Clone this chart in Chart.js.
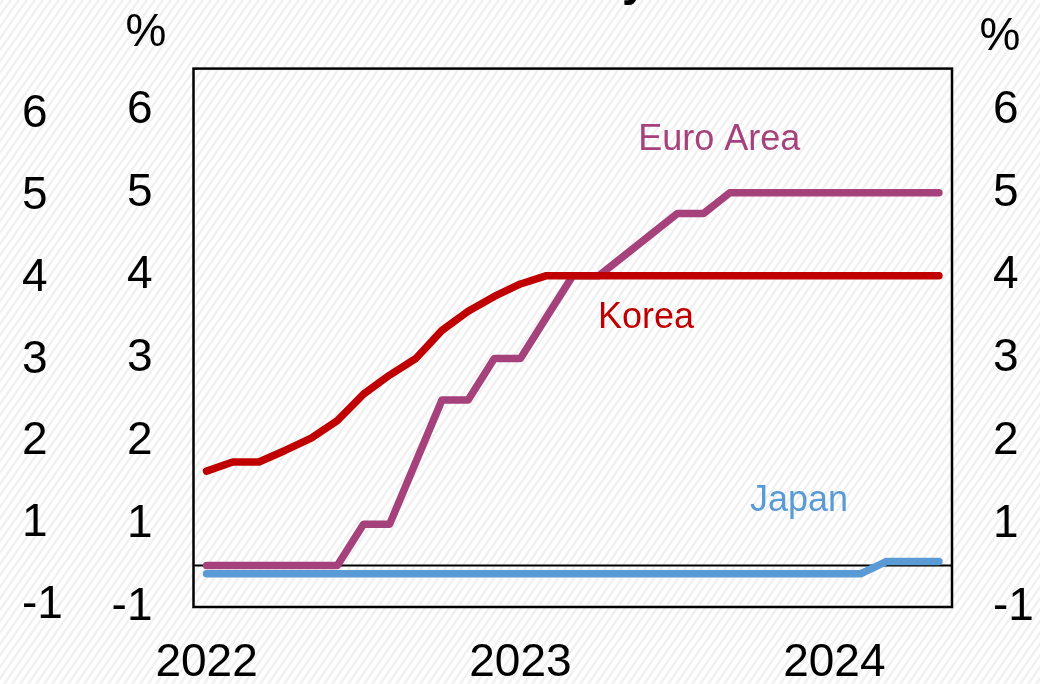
<!DOCTYPE html>
<html>
<head>
<meta charset="utf-8">
<script src="https://cdn.jsdelivr.net/npm/chart.js@4.4.1/dist/chart.umd.min.js"></script>
<style>
  html, body { margin: 0; padding: 0; background: #ffffff; }
  #wrap { width: 1040px; height: 684px; }
</style>
</head>
<body>
<div id="wrap"><canvas id="c" width="1040" height="684"></canvas></div>
<script>
// Monthly observations, Jan 2022 – May 2024
const months = [
  '2022-01','2022-02','2022-03','2022-04','2022-05','2022-06',
  '2022-07','2022-08','2022-09','2022-10','2022-11','2022-12',
  '2023-01','2023-02','2023-03','2023-04','2023-05','2023-06',
  '2023-07','2023-08','2023-09','2023-10','2023-11','2023-12',
  '2024-01','2024-02','2024-03','2024-04','2024-05'
];

// Policy rates, per cent
const korea = [
  1.14, 1.25, 1.25, 1.39, 1.54, 1.75, 2.07, 2.30, 2.50, 2.84, 3.07, 3.25,
  3.40, 3.50, 3.50, 3.50, 3.50, 3.50, 3.50, 3.50, 3.50, 3.50, 3.50, 3.50,
  3.50, 3.50, 3.50, 3.50, 3.50
];
const euroArea = [
  0, 0, 0, 0, 0, 0, 0.5, 0.5, 1.25, 2.0, 2.0, 2.5,
  2.5, 3.0, 3.5, 3.5, 3.75, 4.0, 4.25, 4.25, 4.5, 4.5, 4.5, 4.5,
  4.5, 4.5, 4.5, 4.5, 4.5
];
const japan = [
  -0.1, -0.1, -0.1, -0.1, -0.1, -0.1, -0.1, -0.1, -0.1, -0.1, -0.1, -0.1,
  -0.1, -0.1, -0.1, -0.1, -0.1, -0.1, -0.1, -0.1, -0.1, -0.1, -0.1, -0.1,
  -0.1, -0.1, 0.05, 0.05, 0.05
];

// Value-axis tick positions (labels are rounded to whole numbers)
const yTicks = [-0.5, 0.5, 1.5, 2.5, 3.5, 4.5, 5.5];

const FONT = "'Liberation Sans', Arial, sans-serif";
const COLORS = { korea: '#C00000', euro: '#A5427C', japan: '#5B9BD5' };

// Excel-style rounding: halves go away from zero
function roundLabel(v) {
  const r = Math.sign(v) * Math.round(Math.abs(v));
  return String(r === 0 ? 0 : r);
}

function setTicks(scale) {
  scale.ticks = yTicks.map(v => ({ value: v }));
}

// Hatched page background
const backdrop = {
  id: 'backdrop',
  beforeDraw(chart) {
    const { ctx, width, height } = chart;
    ctx.save();
    ctx.fillStyle = '#ffffff';
    ctx.fillRect(0, 0, width, height);
    ctx.strokeStyle = '#f1f1f1';
    ctx.lineWidth = 2.5;
    const lean = 0.7;
    for (let k = -height; k < width + 20; k += 8) {
      ctx.beginPath();
      ctx.moveTo(k, height);
      ctx.lineTo(k + height * lean, 0);
      ctx.stroke();
    }
    ctx.restore();
  }
};

// Zero line and frame of the plot area
const frame = {
  id: 'frame',
  beforeDatasetsDraw(chart) {
    const { ctx, chartArea: a, scales } = chart;
    const y0 = scales.y.getPixelForValue(0);
    ctx.save();
    ctx.strokeStyle = '#000000';
    ctx.lineWidth = 2;
    ctx.beginPath();
    ctx.moveTo(a.left, y0);
    ctx.lineTo(a.right, y0);
    ctx.stroke();
    ctx.lineWidth = 2.5;
    ctx.strokeRect(a.left, a.top, a.right - a.left, a.bottom - a.top);
    ctx.restore();
  }
};

// Series names, unit markers and heading
const annotations = {
  id: 'annotations',
  afterDraw(chart) {
    const { ctx, scales } = chart;
    const x = scales.x, y = scales.y;
    ctx.save();
    ctx.textAlign = 'center';
    ctx.textBaseline = 'alphabetic';
    ctx.font = '36px ' + FONT;
    const names = [
      { text: 'Euro Area', i: 19.6, v: 5.02, color: COLORS.euro },
      { text: 'Korea', i: 16.8, v: 2.87, color: COLORS.korea },
      { text: 'Japan', i: 22.65, v: 0.66, color: COLORS.japan }
    ];
    names.forEach(n => {
      ctx.fillStyle = n.color;
      ctx.fillText(n.text, x.getPixelForValue(n.i), y.getPixelForValue(n.v));
    });

    ctx.fillStyle = '#000000';
    ctx.font = '46px ' + FONT;
    ctx.fillText('%', 146, 46);
    ctx.fillText('%', 1000, 50);

    ctx.textAlign = 'left';
    ctx.font = 'bold 46px ' + FONT;
    ctx.fillText('Policy Rates', 512, -5);
    ctx.restore();
  }
};

const tickFont = { family: FONT, size: 46 };

new Chart(document.getElementById('c'), {
  type: 'line',
  data: {
    labels: months,
    datasets: [
      { label: 'Korea', data: korea, borderColor: COLORS.korea, yAxisID: 'y' },
      { label: 'Euro Area', data: euroArea, borderColor: COLORS.euro, yAxisID: 'y' },
      { label: 'Japan', data: japan, borderColor: COLORS.japan, yAxisID: 'y' }
    ]
  },
  options: {
    responsive: false,
    devicePixelRatio: 1,
    animation: false,
    layout: { padding: { left: 22, top: 66, right: 0, bottom: 0 } },
    elements: {
      line: { borderWidth: 7.5, tension: 0, borderCapStyle: 'round', borderJoinStyle: 'round', fill: false },
      point: { radius: 0, hoverRadius: 0 }
    },
    plugins: {
      legend: { display: false },
      tooltip: { enabled: false },
      title: { display: false }
    },
    scales: {
      x: {
        type: 'category',
        offset: true,
        grid: { display: false, drawTicks: false },
        border: { display: false },
        afterFit(s) { s.height = 77; },
        ticks: {
          autoSkip: false,
          maxRotation: 0,
          minRotation: 0,
          padding: 29,
          color: '#000000',
          font: tickFont,
          callback(value) {
            const m = this.getLabelForValue(value);
            return m.endsWith('-01') ? m.slice(0, 4) : '';
          }
        }
      },
      y: {
        position: 'left',
        weight: 0,
        min: -0.5,
        max: 6,
        afterBuildTicks: setTicks,
        afterFit(s) { s.width = 111.5; },
        grid: { display: false, drawTicks: false },
        border: { display: false },
        ticks: { padding: 41, color: '#000000', font: tickFont, callback: v => roundLabel(v) }
      },
      yOuter: {
        position: 'left',
        weight: 1,
        min: -0.52,
        max: 6.06,
        afterBuildTicks: setTicks,
        afterFit(s) { s.width = 60; },
        grid: { display: false, drawTicks: false },
        border: { display: false },
        ticks: { crossAlign: 'far', padding: 0, color: '#000000', font: tickFont, callback: v => roundLabel(v) }
      },
      yRight: {
        position: 'right',
        min: -0.5,
        max: 6,
        afterBuildTicks: setTicks,
        afterFit(s) { s.width = 88; },
        grid: { display: false, drawTicks: false },
        border: { display: false },
        ticks: { padding: 41, color: '#000000', font: tickFont, callback: v => roundLabel(v) }
      }
    }
  },
  plugins: [backdrop, frame, annotations]
});
</script>
</body>
</html>
